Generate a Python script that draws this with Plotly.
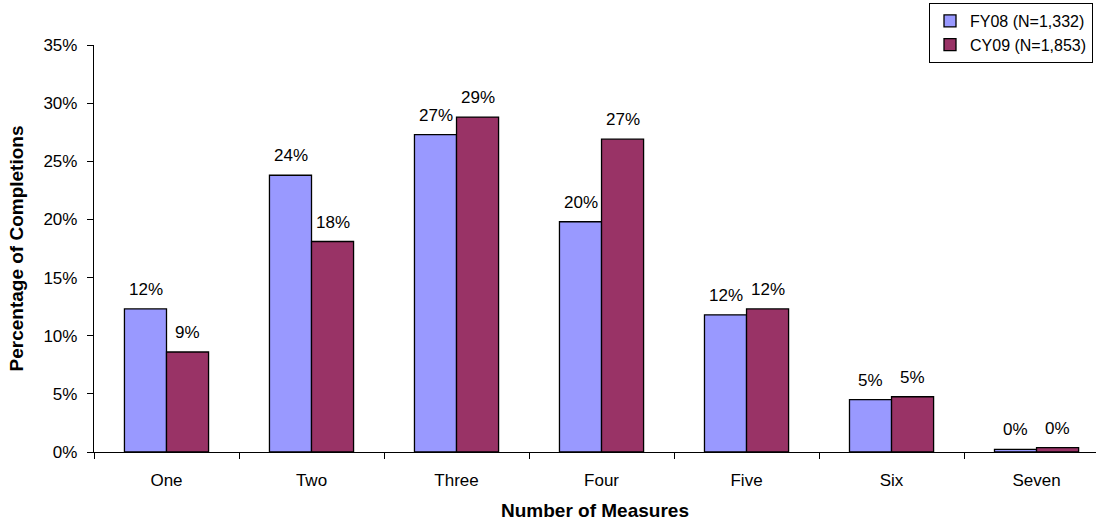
import plotly.graph_objects as go

categories = ["One", "Two", "Three", "Four", "Five", "Six", "Seven"]
fy08 = [12.3, 23.8, 27.3, 19.8, 11.8, 4.5, 0.23]
cy09 = [8.6, 18.1, 28.8, 26.9, 12.3, 4.75, 0.37]
fy08_labels = ["12%", "24%", "27%", "20%", "12%", "5%", "0%"]
cy09_labels = ["9%", "18%", "29%", "27%", "12%", "5%", "0%"]
y_ticks = [0, 5, 10, 15, 20, 25, 30, 35]

FONT = "Liberation Sans, Arial, sans-serif"
BAR_HALF = 21  # pixel offset of each bar's centre from its category centre

fig = go.Figure()
fig.add_trace(go.Bar(
    name="FY08 (N=1,332)", x=categories, y=fy08,
    marker=dict(color="#9999FF", line=dict(color="#000000", width=1.3)),
))
fig.add_trace(go.Bar(
    name="CY09 (N=1,853)", x=categories, y=cy09,
    marker=dict(color="#993366", line=dict(color="#000000", width=1.3)),
))

# value labels sitting above each bar
for series, labels, shift in ((fy08, fy08_labels, -BAR_HALF), (cy09, cy09_labels, BAR_HALF)):
    for cat, val, lab in zip(categories, series, labels):
        fig.add_annotation(
            x=cat, y=val, text=lab, showarrow=False,
            xanchor="center", yanchor="bottom", xshift=shift, yshift=8,
            font=dict(size=17, family=FONT, color="#000000"),
        )

fig.update_layout(
    width=1096, height=523,
    margin=dict(l=94, r=0, t=45, b=71, autoexpand=False),
    paper_bgcolor="white", plot_bgcolor="white",
    barmode="group", bargap=0.42, bargroupgap=0,
    font=dict(family=FONT, size=17, color="#000000"),
    legend=dict(
        x=(1093 - 94) / (1096 - 94), y=1.0 + 42 / 407,
        xanchor="right", yanchor="top",
        bordercolor="#000000", borderwidth=1, bgcolor="white",
        font=dict(size=16, family=FONT), tracegroupgap=0,
        itemwidth=30,
    ),
    showlegend=True,
)

fig.update_xaxes(
    range=[-0.5, 6.41],
    showline=True, linecolor="#000000", linewidth=1.3,
    ticks="outside", tickson="boundaries", ticklen=6, tickcolor="#000000",
    tickfont=dict(size=17, family=FONT),
    ticklabelstandoff=12,
    showgrid=False, zeroline=False,
    title=dict(text="<b>Number of Measures</b>", font=dict(size=19, family=FONT), standoff=15),
)
fig.update_yaxes(
    range=[0, 35], tickvals=y_ticks, ticktext=[f"{v}%" for v in y_ticks],
    showline=True, linecolor="#000000", linewidth=1.3,
    ticks="outside", ticklen=6, tickcolor="#000000",
    tickfont=dict(size=17, family=FONT),
    ticklabelstandoff=6,
    showgrid=False, zeroline=False,
    title=dict(text="<b>Percentage of Completions</b>", font=dict(size=19, family=FONT), standoff=14),
)

fig.write_html("out.html")
